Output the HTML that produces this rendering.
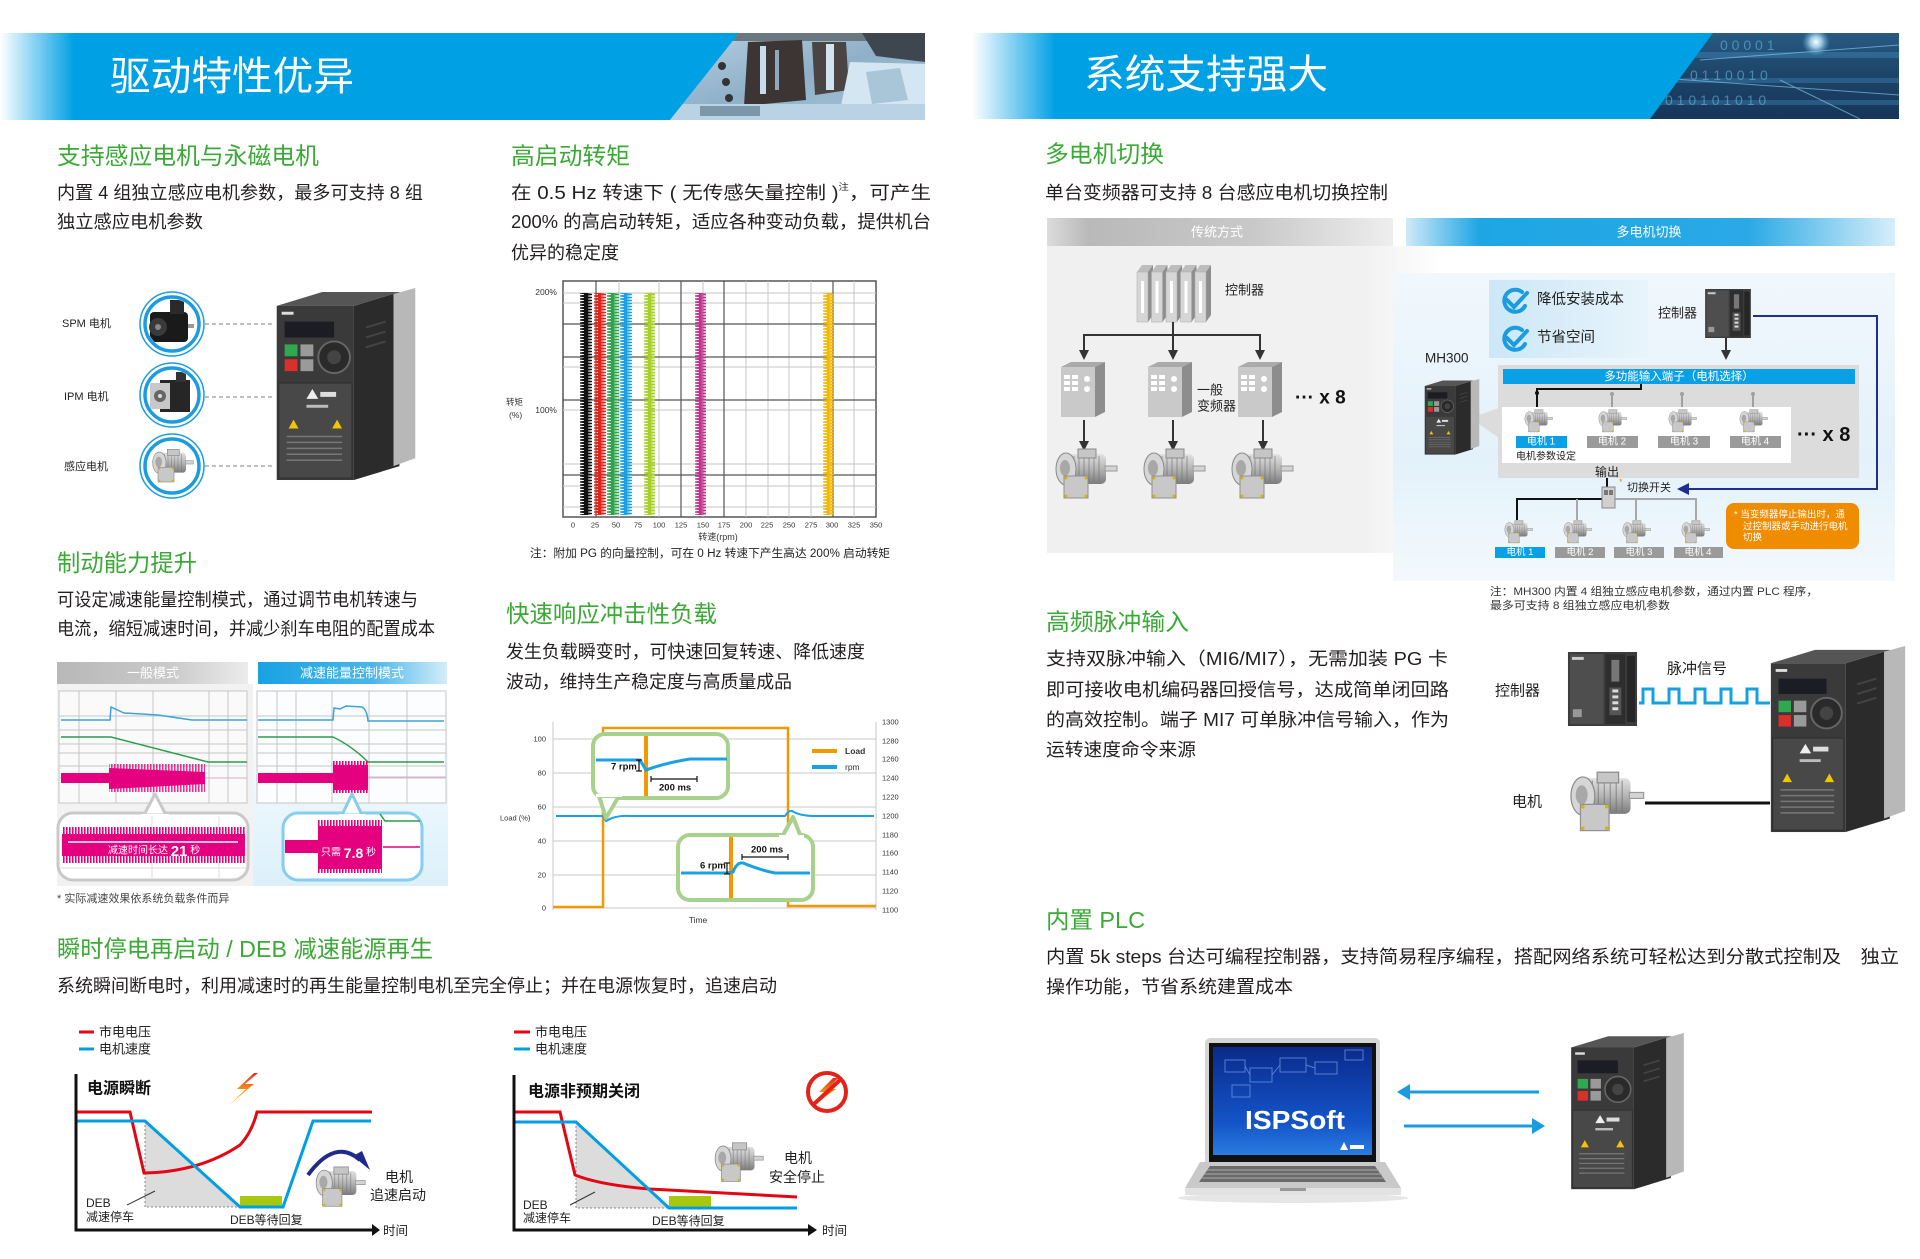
<!DOCTYPE html>
<html><head><meta charset="utf-8"><style>
html,body{margin:0;padding:0;background:#fff;}
svg{display:block;}
text{font-family:"Liberation Sans","Noto Sans CJK SC",sans-serif;}
</style></head><body>
<svg width="1920" height="1259" viewBox="0 0 1920 1259" xmlns="http://www.w3.org/2000/svg">
<defs>
<linearGradient id="bL" gradientUnits="userSpaceOnUse" x1="0" y1="0" x2="925" y2="0"><stop offset="0" stop-color="#ffffff"/><stop offset="0.08" stop-color="#00a0e4"/><stop offset="1" stop-color="#00a0e4"/></linearGradient>
<linearGradient id="bR" gradientUnits="userSpaceOnUse" x1="972" y1="0" x2="1899" y2="0"><stop offset="0" stop-color="#ffffff"/><stop offset="0.09" stop-color="#00a0e4"/><stop offset="1" stop-color="#00a0e4"/></linearGradient>
<linearGradient id="phL" x1="0" y1="0" x2="1" y2="1"><stop offset="0" stop-color="#b7d2e4"/><stop offset="0.5" stop-color="#8fb0c8"/><stop offset="1" stop-color="#a9c7dc"/></linearGradient>
<linearGradient id="phR" x1="0" y1="0" x2="0" y2="1"><stop offset="0" stop-color="#285a82"/><stop offset="0.5" stop-color="#1c4468"/><stop offset="1" stop-color="#16365a"/></linearGradient>
<radialGradient id="spot"><stop offset="0" stop-color="#ffffff"/><stop offset="0.4" stop-color="#bfe8ff" stop-opacity="0.8"/><stop offset="1" stop-color="#5fb0e0" stop-opacity="0"/></radialGradient>
<linearGradient id="tabG" x1="0" y1="0" x2="1" y2="0"><stop offset="0" stop-color="#dcdcdc"/><stop offset="0.12" stop-color="#b9b9b9"/><stop offset="0.6" stop-color="#c9c9c9"/><stop offset="1" stop-color="#eeeeee"/></linearGradient>
<linearGradient id="tabB" x1="0" y1="0" x2="1" y2="0"><stop offset="0" stop-color="#cfeaf8"/><stop offset="0.15" stop-color="#1ea6e4"/><stop offset="0.7" stop-color="#2aa9e5"/><stop offset="1" stop-color="#d6eefa"/></linearGradient>
<linearGradient id="tabB2" x1="0" y1="0" x2="1" y2="0"><stop offset="0" stop-color="#18a2e2"/><stop offset="0.6" stop-color="#49b5e8"/><stop offset="1" stop-color="#d3edf9"/></linearGradient>
<linearGradient id="tabG2" x1="0" y1="0" x2="1" y2="0"><stop offset="0" stop-color="#b8b8b8"/><stop offset="0.6" stop-color="#cacaca"/><stop offset="1" stop-color="#ececec"/></linearGradient>
<linearGradient id="panG" x1="0" y1="0" x2="1" y2="0"><stop offset="0" stop-color="#f0f0f0"/><stop offset="0.8" stop-color="#f1f1f1"/><stop offset="1" stop-color="#ffffff"/></linearGradient>
<linearGradient id="panB" x1="0" y1="0" x2="0" y2="1"><stop offset="0" stop-color="#f1f8fd"/><stop offset="0.6" stop-color="#e3f1fa"/><stop offset="1" stop-color="#f3f9fd"/></linearGradient>
<linearGradient id="chkB" x1="0" y1="0" x2="1" y2="0"><stop offset="0" stop-color="#cce7f7"/><stop offset="1" stop-color="#e8f4fb"/></linearGradient>
<linearGradient id="brB" x1="0" y1="0" x2="0" y2="1"><stop offset="0" stop-color="#ffffff"/><stop offset="1" stop-color="#dcf0fb"/></linearGradient>
<linearGradient id="mg" x1="0" y1="0" x2="0" y2="1"><stop offset="0" stop-color="#e2e2e2"/><stop offset="0.5" stop-color="#b4b4b4"/><stop offset="1" stop-color="#7c7c7c"/></linearGradient>
<linearGradient id="bolt" x1="0" y1="0" x2="0" y2="1"><stop offset="0" stop-color="#e8261c"/><stop offset="0.5" stop-color="#f7931e"/><stop offset="1" stop-color="#ffd400"/></linearGradient>
<linearGradient id="scr" x1="0" y1="0" x2="0" y2="1"><stop offset="0" stop-color="#0a2a8c"/><stop offset="0.7" stop-color="#1454c8"/><stop offset="1" stop-color="#2a7be0"/></linearGradient>
<pattern id="pk" width="12" height="3" patternUnits="userSpaceOnUse"><polyline points="0,0 12,1.5 0,3" fill="none" stroke="#111" stroke-width="1.3"/></pattern>
<pattern id="pr" width="12" height="3" patternUnits="userSpaceOnUse"><polyline points="0,0 12,1.5 0,3" fill="none" stroke="#e2231a" stroke-width="1.3"/></pattern>
<pattern id="pg" width="12" height="3" patternUnits="userSpaceOnUse"><polyline points="0,0 12,1.5 0,3" fill="none" stroke="#2ea44a" stroke-width="1.3"/></pattern>
<pattern id="pb" width="12" height="3" patternUnits="userSpaceOnUse"><polyline points="0,0 12,1.5 0,3" fill="none" stroke="#1ba1e2" stroke-width="1.3"/></pattern>
<pattern id="py" width="12" height="3" patternUnits="userSpaceOnUse"><polyline points="0,0 12,1.5 0,3" fill="none" stroke="#a8cf2a" stroke-width="1.3"/></pattern>
<pattern id="pm" width="12" height="3" patternUnits="userSpaceOnUse"><polyline points="0,0 12,1.5 0,3" fill="none" stroke="#c0348e" stroke-width="1.3"/></pattern>
<pattern id="po" width="12" height="3" patternUnits="userSpaceOnUse"><polyline points="0,0 12,1.5 0,3" fill="none" stroke="#f5b800" stroke-width="1.3"/></pattern>
<pattern id="hair" width="3" height="40" patternUnits="userSpaceOnUse"><rect x="0" y="0" width="1.6" height="40" fill="#e4007f"/></pattern>

<symbol id="motor" viewBox="0 0 66 52">
 <rect x="14" y="6" width="40" height="30" rx="5" fill="url(#mg)"/>
 <g stroke="#6f6f6f" stroke-width="1" opacity="0.6"><line x1="22" y1="8" x2="22" y2="34"/><line x1="27" y1="8" x2="27" y2="34"/><line x1="32" y1="8" x2="32" y2="34"/><line x1="37" y1="8" x2="37" y2="34"/><line x1="42" y1="8" x2="42" y2="34"/><line x1="47" y1="8" x2="47" y2="34"/></g>
 <ellipse cx="14" cy="21" rx="10" ry="16" fill="#d6d6d6" stroke="#8a8a8a"/>
 <ellipse cx="13" cy="20" rx="5" ry="8" fill="#a8a8a8"/>
 <rect x="26" y="1" width="18" height="9" fill="#c6c6c6" stroke="#8a8a8a"/>
 <rect x="53" y="18" width="12" height="5" fill="#d4d4d4" stroke="#999"/>
 <rect x="12" y="28" width="24" height="22" fill="#c8c8c8" stroke="#909090"/>
 <circle cx="14" cy="30" r="1.5" fill="#d8b400"/><circle cx="34" cy="30" r="1.5" fill="#d8b400"/><circle cx="14" cy="48" r="1.5" fill="#d8b400"/><circle cx="34" cy="48" r="1.5" fill="#d8b400"/>
</symbol>

<symbol id="drive" viewBox="0 0 140 195">
 <polygon points="78,18 124,4 124,180 78,194" fill="#2b2b2b"/>
 <polygon points="118,6 140,0 140,172 118,180" fill="#b8b8b8"/>
 <polygon points="0,18 46,4 124,4 78,18" fill="#555"/>
 <rect x="0" y="18" width="78" height="176" fill="#3a3a3a"/>
 <rect x="5" y="24" width="12" height="3" fill="#ddd"/>
 <rect x="8" y="34" width="50" height="16" fill="#1c1c24"/>
 <rect x="8" y="57" width="13" height="12" fill="#2fa84f"/>
 <rect x="24" y="57" width="13" height="12" fill="#9a9a9a"/>
 <rect x="8" y="72" width="13" height="12" fill="#d9302c"/>
 <rect x="24" y="72" width="13" height="12" fill="#9a9a9a"/>
 <circle cx="58" cy="70" r="16" fill="#2a2a2a" stroke="#666" stroke-width="2"/>
 <circle cx="58" cy="70" r="7" fill="#444"/>
 <rect x="2" y="96" width="74" height="96" fill="#484848" stroke="#2e2e2e"/>
 <polygon points="30,112 36,102 42,112" fill="#eee"/>
 <rect x="44" y="105" width="16" height="5" fill="#ddd"/>
 <rect x="30" y="118" width="22" height="3" fill="#bbb"/>
 <polygon points="12,142 17,133 22,142" fill="#f2c500"/>
 <polygon points="56,142 61,133 66,142" fill="#f2c500"/>
 <g stroke="#777" stroke-width="1.5"><line x1="10" y1="150" x2="66" y2="150"/><line x1="10" y1="156" x2="66" y2="156"/><line x1="10" y1="162" x2="66" y2="162"/><line x1="10" y1="168" x2="66" y2="168"/><line x1="10" y1="174" x2="66" y2="174"/></g>
 <g stroke="#444" stroke-width="2"><line x1="90" y1="40" x2="110" y2="34"/><line x1="90" y1="50" x2="110" y2="44"/><line x1="90" y1="60" x2="110" y2="54"/></g>
</symbol>

<symbol id="plc" viewBox="0 0 70 75">
 <rect x="0" y="0" width="70" height="75" fill="#3c3c3c"/>
 <rect x="2" y="2" width="34" height="71" fill="#4e4e4e"/>
 <rect x="4" y="5" width="12" height="3" fill="#ccc"/>
 <rect x="38" y="2" width="20" height="71" fill="#2e2e2e"/>
 <rect x="44" y="8" width="8" height="22" fill="#777"/>
 <rect x="42" y="36" width="12" height="28" fill="#555"/>
 <g fill="#ddd"><rect x="45" y="38" width="6" height="3"/><rect x="45" y="44" width="6" height="3"/><rect x="45" y="50" width="6" height="3"/><rect x="45" y="56" width="6" height="3"/></g>
 <rect x="60" y="4" width="8" height="67" fill="#262626"/>
 <rect x="5" y="58" width="9" height="8" fill="#999"/>
</symbol>
<clipPath id="cL"><polygon points="739,33 925,33 925,120 670,120"/></clipPath>
<clipPath id="cR"><polygon points="1713,33 1899,33 1899,119 1650,119"/></clipPath>
<clipPath id="c1"><circle cx="172" cy="324" r="25"/></clipPath>
<clipPath id="c2"><circle cx="172" cy="395" r="25"/></clipPath>
</defs>

<rect width="1920" height="1259" fill="#fff"/>

<!-- ===== Banners ===== -->
<rect x="0" y="33" width="925" height="87" fill="url(#bL)"/>
<g clip-path="url(#cL)">
<rect x="660" y="33" width="270" height="90" fill="url(#phL)"/>
<rect x="660" y="33" width="270" height="8" fill="#6b7882"/>
<polygon points="748,42 802,40 806,100 744,106" fill="#3d3533"/>
<rect x="760" y="46" width="6" height="48" fill="#c5dcec"/>
<rect x="775" y="50" width="4" height="40" fill="#8fa9bb"/>
<polygon points="812,42 846,42 849,90 815,95" fill="#4a4442"/>
<rect x="826" y="44" width="8" height="46" fill="#d2e4f0"/>
<polygon points="862,33 925,33 925,62 876,56" fill="#3e4650"/>
<polygon points="850,62 925,64 925,120 838,120" fill="#d3e6f2"/>
<polygon points="866,72 900,68 908,100 872,104" fill="#a9c5d8"/>
<circle cx="722" cy="66" r="4" fill="#333"/><circle cx="726" cy="82" r="4" fill="#333"/><circle cx="729" cy="98" r="4" fill="#333"/>
<rect x="660" y="104" width="270" height="16" fill="#b9d3e4"/>
<rect x="700" y="106" width="60" height="10" fill="#7d97aa"/>
</g>
<text x="110" y="77" dominant-baseline="central" font-size="40" fill="#fff" textLength="244" lengthAdjust="spacingAndGlyphs">驱动特性优异</text>

<rect x="972" y="33" width="927" height="86" fill="url(#bR)"/>
<g clip-path="url(#cR)">
<rect x="1640" y="33" width="260" height="86" fill="url(#phR)"/>
<rect x="1640" y="52" width="260" height="6" fill="#3a78a8" opacity="0.6"/>
<rect x="1640" y="78" width="260" height="5" fill="#3a78a8" opacity="0.5"/>
<rect x="1640" y="100" width="260" height="5" fill="#3a78a8" opacity="0.5"/>
<g stroke="#8fd3f5" stroke-width="1" opacity="0.6">
<line x1="1660" y1="78" x2="1899" y2="95"/><line x1="1700" y1="60" x2="1899" y2="45"/><line x1="1780" y1="80" x2="1860" y2="119"/>
</g>
<g font-size="14" fill="#6cc0ec" opacity="0.55" font-family="Liberation Mono, monospace">
<text x="1720" y="50">0  0  0  0  1</text>
<text x="1690" y="80">0  1  1  0  0  1  0</text>
<text x="1665" y="105">0  1  0  1  0  1  0  1  0</text>
</g>
<circle cx="1816" cy="42" r="14" fill="url(#spot)"/>
</g>
<text x="1084" y="75" dominant-baseline="central" font-size="40" fill="#fff" textLength="244" lengthAdjust="spacingAndGlyphs">系统支持强大</text>

<!-- ===== Titles ===== -->
<g fill="#3aa935" font-size="23.5">
<text x="57" y="156" dominant-baseline="central" textLength="262" lengthAdjust="spacingAndGlyphs">支持感应电机与永磁电机</text>
<text x="511" y="156" dominant-baseline="central" textLength="119" lengthAdjust="spacingAndGlyphs">高启动转矩</text>
<text x="57" y="563" dominant-baseline="central" textLength="140" lengthAdjust="spacingAndGlyphs">制动能力提升</text>
<text x="506" y="614" dominant-baseline="central" textLength="211" lengthAdjust="spacingAndGlyphs">快速响应冲击性负载</text>
<text x="57" y="949" dominant-baseline="central" textLength="376" lengthAdjust="spacingAndGlyphs">瞬时停电再启动 / DEB 减速能源再生</text>
<text x="1045" y="154" dominant-baseline="central" textLength="119" lengthAdjust="spacingAndGlyphs">多电机切换</text>
<text x="1046" y="622" dominant-baseline="central" textLength="143" lengthAdjust="spacingAndGlyphs">高频脉冲输入</text>
<text x="1046" y="920" dominant-baseline="central" textLength="99" lengthAdjust="spacingAndGlyphs">内置 PLC</text>
</g>

<g fill="#231f20" font-size="18">
<text x="57" y="193" dominant-baseline="central" textLength="366" lengthAdjust="spacingAndGlyphs">内置 4 组独立感应电机参数，最多可支持 8 组</text>
<text x="57" y="222" dominant-baseline="central" textLength="146" lengthAdjust="spacingAndGlyphs">独立感应电机参数</text>
<text x="511" y="193" dominant-baseline="central" textLength="420" lengthAdjust="spacingAndGlyphs">在 0.5 Hz 转速下 ( 无传感矢量控制 )<tspan font-size="9" dy="-6">注</tspan><tspan dy="6">，可产生</tspan></text>
<text x="511" y="222" dominant-baseline="central" textLength="420" lengthAdjust="spacingAndGlyphs">200% 的高启动转矩，适应各种变动负载，提供机台</text>
<text x="511" y="253" dominant-baseline="central" textLength="108" lengthAdjust="spacingAndGlyphs">优异的稳定度</text>
<text x="57" y="600" dominant-baseline="central" textLength="361" lengthAdjust="spacingAndGlyphs">可设定减速能量控制模式，通过调节电机转速与</text>
<text x="57" y="629" dominant-baseline="central" textLength="378" lengthAdjust="spacingAndGlyphs">电流，缩短减速时间，并减少刹车电阻的配置成本</text>
<text x="506" y="652" dominant-baseline="central" textLength="359" lengthAdjust="spacingAndGlyphs">发生负载瞬变时，可快速回复转速、降低速度</text>
<text x="506" y="682" dominant-baseline="central" textLength="286" lengthAdjust="spacingAndGlyphs">波动，维持生产稳定度与高质量成品</text>
<text x="57" y="986" dominant-baseline="central" textLength="720" lengthAdjust="spacingAndGlyphs">系统瞬间断电时，利用减速时的再生能量控制电机至完全停止；并在电源恢复时，追速启动</text>
<text x="1045" y="193" dominant-baseline="central" textLength="343" lengthAdjust="spacingAndGlyphs">单台变频器可支持 8 台感应电机切换控制</text>
<text x="1046" y="659" dominant-baseline="central" textLength="402" lengthAdjust="spacingAndGlyphs">支持双脉冲输入（MI6/MI7），无需加装 PG 卡</text>
<text x="1046" y="690" dominant-baseline="central" textLength="403" lengthAdjust="spacingAndGlyphs">即可接收电机编码器回授信号，达成简单闭回路</text>
<text x="1046" y="720" dominant-baseline="central" textLength="403" lengthAdjust="spacingAndGlyphs">的高效控制。端子 MI7 可单脉冲信号输入，作为</text>
<text x="1046" y="750" dominant-baseline="central" textLength="150" lengthAdjust="spacingAndGlyphs">运转速度命令来源</text>
<text x="1046" y="957" dominant-baseline="central" textLength="853" lengthAdjust="spacingAndGlyphs">内置 5k steps 台达可编程控制器，支持简易程序编程，搭配网络系统可轻松达到分散式控制及　独立</text>
<text x="1046" y="987" dominant-baseline="central" textLength="247" lengthAdjust="spacingAndGlyphs">操作功能，节省系统建置成本</text>
</g>

<!-- motor circles -->
<g font-size="11" fill="#222">
<text x="62" y="324" dominant-baseline="central">SPM 电机</text>
<text x="64" y="397" dominant-baseline="central">IPM 电机</text>
<text x="64" y="467" dominant-baseline="central">感应电机</text>
</g>
<g stroke="#999" stroke-width="1.2" stroke-dasharray="4 3">
<line x1="205" y1="324" x2="272" y2="324"/><line x1="205" y1="397" x2="272" y2="397"/><line x1="205" y1="466" x2="272" y2="466"/>
</g>
<circle cx="172" cy="324" r="32" fill="#fff" stroke="#1b9be0" stroke-width="1.5"/>
<circle cx="172" cy="324" r="27" fill="#fff" stroke="#1b9be0" stroke-width="3.5"/>
<g clip-path="url(#c1)">
<rect x="150" y="312" width="38" height="30" rx="4" fill="#1a1a1a"/>
<rect x="170" y="300" width="14" height="14" fill="#2a2a2a"/>
<circle cx="158" cy="327" r="9" fill="#3a3a3a"/><circle cx="158" cy="327" r="3" fill="#888"/>
<rect x="188" y="324" width="6" height="4" fill="#999"/>
</g>
<circle cx="172" cy="395" r="32" fill="#fff" stroke="#1b9be0" stroke-width="1.5"/>
<circle cx="172" cy="395" r="27" fill="#fff" stroke="#1b9be0" stroke-width="3.5"/>
<g clip-path="url(#c2)">
<rect x="160" y="380" width="30" height="32" fill="#262626"/>
<rect x="176" y="372" width="10" height="10" fill="#333"/>
<rect x="150" y="383" width="20" height="26" fill="#c8c8c8"/>
<circle cx="160" cy="396" r="6" fill="#666"/><circle cx="160" cy="396" r="2" fill="#ddd"/>
</g>
<circle cx="172" cy="466" r="32" fill="#fff" stroke="#1b9be0" stroke-width="1.5"/>
<circle cx="172" cy="466" r="27" fill="#fff" stroke="#1b9be0" stroke-width="3.5"/>
<use href="#motor" x="150" y="448" width="44" height="36"/>
<use href="#drive" x="276" y="288" width="140" height="193"/>

<!-- torque chart -->
<rect x="563" y="281" width="313" height="236" fill="#fff" stroke="#555" stroke-width="1.5"/>
<g stroke="#c4c4c4" stroke-width="1">
<line x1="563" y1="293" x2="876" y2="293"/><line x1="563" y1="303" x2="876" y2="303"/><line x1="563" y1="367" x2="876" y2="367"/><line x1="563" y1="410" x2="876" y2="410"/><line x1="563" y1="464" x2="876" y2="464"/><line x1="563" y1="486" x2="876" y2="486"/><line x1="563" y1="507" x2="876" y2="507"/>
<line x1="619" y1="281" x2="619" y2="517"/><line x1="659" y1="281" x2="659" y2="517"/><line x1="703" y1="281" x2="703" y2="517"/><line x1="746" y1="281" x2="746" y2="517"/><line x1="768" y1="281" x2="768" y2="517"/><line x1="789" y1="281" x2="789" y2="517"/><line x1="811" y1="281" x2="811" y2="517"/><line x1="854" y1="281" x2="854" y2="517"/>
</g>
<g stroke="#555" stroke-width="1.2">
<line x1="563" y1="324" x2="876" y2="324"/><line x1="563" y1="357" x2="876" y2="357"/><line x1="563" y1="400" x2="876" y2="400"/><line x1="563" y1="475" x2="876" y2="475"/>
<line x1="596" y1="281" x2="596" y2="517"/><line x1="681" y1="281" x2="681" y2="517"/><line x1="724" y1="281" x2="724" y2="517"/><line x1="833" y1="281" x2="833" y2="517"/>
</g>
<g transform="translate(580,293)"><rect width="12" height="222" fill="url(#pk)"/><rect x="4" width="4" height="222" fill="#111"/></g>
<g transform="translate(594,293)"><rect width="12" height="222" fill="url(#pr)"/><rect x="4" width="3" height="222" fill="#e2231a"/></g>
<g transform="translate(607,293)"><rect width="12" height="222" fill="url(#pg)"/><rect x="4" width="3" height="222" fill="#2ea44a"/></g>
<g transform="translate(620,293)"><rect width="12" height="222" fill="url(#pb)"/><rect x="4" width="3" height="222" fill="#1ba1e2"/></g>
<g transform="translate(644,293)"><rect width="11" height="222" fill="url(#py)"/><rect x="4" width="3" height="222" fill="#a8cf2a"/></g>
<g transform="translate(695,293)"><rect width="11" height="222" fill="url(#pm)"/><rect x="4" width="2.5" height="222" fill="#c0348e"/></g>
<g transform="translate(823,293)"><rect width="11" height="222" fill="url(#po)"/><rect x="4" width="2.5" height="222" fill="#f5b800"/></g>
<g font-size="8.5" fill="#333">
<text x="557" y="292" text-anchor="end" dominant-baseline="central">200%</text>
<text x="557" y="410" text-anchor="end" dominant-baseline="central">100%</text>
<text x="506" y="402" dominant-baseline="central">转矩</text>
<text x="509" y="415" dominant-baseline="central">(%)</text>
</g>
<g font-size="7.5" fill="#333" text-anchor="middle">
<text x="573" y="525" dominant-baseline="central">0</text><text x="595" y="525" dominant-baseline="central">25</text><text x="616" y="525" dominant-baseline="central">50</text><text x="638" y="525" dominant-baseline="central">75</text><text x="659" y="525" dominant-baseline="central">100</text><text x="681" y="525" dominant-baseline="central">125</text><text x="703" y="525" dominant-baseline="central">150</text><text x="724" y="525" dominant-baseline="central">175</text><text x="746" y="525" dominant-baseline="central">200</text><text x="767" y="525" dominant-baseline="central">225</text><text x="789" y="525" dominant-baseline="central">250</text><text x="811" y="525" dominant-baseline="central">275</text><text x="832" y="525" dominant-baseline="central">300</text><text x="854" y="525" dominant-baseline="central">325</text><text x="876" y="525" dominant-baseline="central">350</text>
<text x="718" y="537" font-size="9" dominant-baseline="central">转速(rpm)</text>
</g>
<text x="530" y="554" dominant-baseline="central" font-size="11.5" fill="#222" textLength="360" lengthAdjust="spacingAndGlyphs">注：附加 PG 的向量控制，可在 0 Hz 转速下产生高达 200% 启动转矩</text>

<!-- ===== braking charts ===== -->
<rect x="57" y="662" width="191" height="22" fill="url(#tabG2)"/>
<rect x="258" y="662" width="189" height="22" fill="url(#tabB2)"/>
<text x="153" y="673" text-anchor="middle" dominant-baseline="central" font-size="13" fill="#fff">一般模式</text>
<text x="352" y="673" text-anchor="middle" dominant-baseline="central" font-size="13" fill="#fff">减速能量控制模式</text>
<rect x="57" y="684" width="196" height="202" fill="#f2f2f2"/>
<rect x="253" y="684" width="195" height="202" fill="url(#brB)"/>
<g stroke="#c6c6c6" stroke-width="1" fill="none">
<rect x="59" y="691" width="188" height="112" fill="#fafafa"/>
<line x1="79" y1="691" x2="79" y2="803"/><line x1="116" y1="691" x2="116" y2="803"/><line x1="153" y1="691" x2="153" y2="803"/><line x1="209" y1="691" x2="209" y2="803"/><line x1="228" y1="691" x2="228" y2="803"/>
<line x1="59" y1="716" x2="247" y2="716"/><line x1="59" y1="730" x2="247" y2="730"/><line x1="59" y1="744" x2="247" y2="744"/><line x1="59" y1="753" x2="247" y2="753"/><line x1="59" y1="766" x2="247" y2="766"/><line x1="59" y1="778" x2="247" y2="778"/>
<rect x="257" y="691" width="189" height="112" fill="#fbfdff"/>
<line x1="277" y1="691" x2="277" y2="803"/><line x1="296" y1="691" x2="296" y2="803"/><line x1="332" y1="691" x2="332" y2="803"/><line x1="369" y1="691" x2="369" y2="803"/><line x1="407" y1="691" x2="407" y2="803"/>
<line x1="257" y1="716" x2="446" y2="716"/><line x1="257" y1="730" x2="446" y2="730"/><line x1="257" y1="744" x2="446" y2="744"/><line x1="257" y1="753" x2="446" y2="753"/><line x1="257" y1="766" x2="446" y2="766"/><line x1="257" y1="778" x2="446" y2="778"/>
</g>
<g fill="none" stroke-width="1.5">
<path d="M61,720 H110 L111,707 L124,713 L158,715 L192,720 H247" stroke="#3aa3dc"/>
<path d="M61,737 H111 L208,762 H247" stroke="#2a9d4a"/>
<path d="M258,720 H333 L334,708 L340,709 L346,706 L362,707 Q367,710 368,721 H444" stroke="#3aa3dc"/>
<path d="M258,737 H333 Q352,746 368,762 H444" stroke="#2a9d4a"/>
<line x1="368" y1="777" x2="446" y2="777" stroke="#e9a6cc" stroke-width="1"/>
<line x1="205" y1="778" x2="247" y2="778" stroke="#e9a6cc" stroke-width="1"/>
</g>
<rect x="61" y="773" width="50" height="10" fill="#e4007f"/>
<polygon points="109,768 205,772 205,784 109,789" fill="#e4007f"/>
<rect x="109" y="764" width="96" height="28" fill="url(#hair)" opacity="0.8"/>
<rect x="258" y="773" width="76" height="10" fill="#e4007f"/>
<rect x="333" y="765" width="35" height="25" fill="#e4007f"/>
<rect x="333" y="761" width="35" height="32" fill="url(#hair)"/>

<!-- callouts braking -->
<rect x="58" y="813" width="190" height="67" rx="15" fill="#fff" stroke="#c9c9c9" stroke-width="3"/>
<polygon points="144,815 155,794 166,815" fill="#fff" stroke="#c9c9c9" stroke-width="3" stroke-linejoin="round"/>
<rect x="141" y="814" width="28" height="4" fill="#fff"/>
<g stroke="#ddd" stroke-width="1"><line x1="152" y1="816" x2="152" y2="878"/><line x1="219" y1="816" x2="219" y2="878"/><line x1="60" y1="868" x2="246" y2="868"/></g>
<rect x="62" y="834" width="183" height="22" fill="#e4007f"/>
<rect x="62" y="827" width="183" height="36" fill="url(#hair)"/>
<line x1="68" y1="842" x2="238" y2="842" stroke="#fff" stroke-width="1.5"/>
<text x="108" y="851" dominant-baseline="central" font-size="10" fill="#fff">减速时间长达 <tspan font-size="15" font-weight="bold">21</tspan> 秒</text>

<rect x="283" y="813" width="139" height="67" rx="15" fill="#fff" stroke="#86cdf0" stroke-width="3"/>
<polygon points="342,815 352,794 362,815" fill="#fff" stroke="#86cdf0" stroke-width="3" stroke-linejoin="round"/>
<rect x="339" y="814" width="26" height="4" fill="#fff"/>
<path d="M380,814 L385,821 H420" fill="none" stroke="#2a9d4a" stroke-width="1.5"/>
<line x1="383" y1="847" x2="420" y2="847" stroke="#e4007f" stroke-width="1.5"/>
<rect x="285" y="840" width="34" height="13" fill="#e4007f"/>
<rect x="318" y="826" width="64" height="43" fill="#e4007f"/>
<rect x="318" y="820" width="64" height="53" fill="url(#hair)"/>
<text x="321" y="853" dominant-baseline="central" font-size="10" fill="#fff">只需 <tspan font-size="14" font-weight="bold">7.8</tspan> 秒</text>
<text x="57" y="899" dominant-baseline="central" font-size="11" fill="#444">* 实际减速效果依系统负载条件而异</text>

<!-- ===== fast response chart ===== -->
<g stroke="#c8c8c8" stroke-width="1">
<line x1="553" y1="739" x2="876" y2="739"/><line x1="553" y1="773" x2="876" y2="773"/><line x1="553" y1="807" x2="876" y2="807"/><line x1="553" y1="841" x2="876" y2="841"/><line x1="553" y1="875" x2="876" y2="875"/><line x1="553" y1="908" x2="876" y2="908"/>
<line x1="553" y1="722" x2="553" y2="910"/><line x1="876" y1="722" x2="876" y2="910"/>
</g>
<g font-size="7.5" fill="#333">
<text x="546" y="739" text-anchor="end" dominant-baseline="central">100</text>
<text x="546" y="773" text-anchor="end" dominant-baseline="central">80</text>
<text x="546" y="807" text-anchor="end" dominant-baseline="central">60</text>
<text x="546" y="841" text-anchor="end" dominant-baseline="central">40</text>
<text x="546" y="875" text-anchor="end" dominant-baseline="central">20</text>
<text x="546" y="908" text-anchor="end" dominant-baseline="central">0</text>
<text x="500" y="818" dominant-baseline="central">Load (%)</text>
<text x="698" y="920" text-anchor="middle" dominant-baseline="central" font-size="8.5">Time</text>
<text x="882" y="722" dominant-baseline="central">1300</text><text x="882" y="741" dominant-baseline="central">1280</text><text x="882" y="759" dominant-baseline="central">1260</text><text x="882" y="778" dominant-baseline="central">1240</text><text x="882" y="797" dominant-baseline="central">1220</text><text x="882" y="816" dominant-baseline="central">1200</text><text x="882" y="835" dominant-baseline="central">1180</text><text x="882" y="853" dominant-baseline="central">1160</text><text x="882" y="872" dominant-baseline="central">1140</text><text x="882" y="891" dominant-baseline="central">1120</text><text x="882" y="910" dominant-baseline="central">1100</text>
</g>
<path d="M553,907 H603 V728 H788 V906 H876" fill="none" stroke="#f39800" stroke-width="2.5"/>
<path d="M556,816 H603 L606,821 Q615,815 630,816 H785 Q789,810 792,811 Q800,816 815,816 H874" fill="none" stroke="#1ba1e2" stroke-width="2"/>
<line x1="812" y1="751" x2="837" y2="751" stroke="#f39800" stroke-width="4"/>
<line x1="812" y1="767" x2="837" y2="767" stroke="#1ba1e2" stroke-width="4"/>
<text x="845" y="751" dominant-baseline="central" font-size="8.5" font-weight="bold" fill="#333">Load</text>
<text x="845" y="767" dominant-baseline="central" font-size="8.5" fill="#333">rpm</text>

<rect x="593" y="734" width="135" height="64" rx="12" fill="#fff" stroke="#a9d18e" stroke-width="4"/>
<polygon points="599,796 606,818 619,796" fill="#fff" stroke="#a9d18e" stroke-width="4" stroke-linejoin="round"/>
<rect x="596" y="794" width="26" height="3" fill="#fff"/>
<rect x="644" y="736" width="4" height="60" fill="#f39800"/>
<path d="M596,760 H640 L646,770 Q665,763 690,759 H727" fill="none" stroke="#1ba1e2" stroke-width="3"/>
<g stroke="#111" stroke-width="1.2"><line x1="639" y1="760" x2="639" y2="771"/><line x1="636" y1="760" x2="642" y2="760"/><line x1="636" y1="771" x2="642" y2="771"/><line x1="651" y1="779" x2="697" y2="779"/><line x1="651" y1="776" x2="651" y2="782"/><line x1="697" y1="776" x2="697" y2="782"/></g>
<text x="611" y="767" dominant-baseline="central" font-size="9.5" font-weight="bold" fill="#111">7 rpm</text>
<text x="659" y="788" dominant-baseline="central" font-size="9.5" font-weight="bold" fill="#111">200 ms</text>

<rect x="678" y="835" width="135" height="65" rx="12" fill="#fff" stroke="#a9d18e" stroke-width="4"/>
<polygon points="782,837 793,817 801,837" fill="#fff" stroke="#a9d18e" stroke-width="4" stroke-linejoin="round"/>
<rect x="779" y="835" width="25" height="4" fill="#fff"/>
<rect x="729" y="837" width="4" height="61" fill="#f39800"/>
<path d="M681,873 H727 L733,872 Q737,862 743,863 Q760,870 775,873 H810" fill="none" stroke="#1ba1e2" stroke-width="3"/>
<g stroke="#111" stroke-width="1.2"><line x1="727" y1="863" x2="727" y2="874"/><line x1="724" y1="863" x2="730" y2="863"/><line x1="724" y1="874" x2="730" y2="874"/><line x1="742" y1="857" x2="788" y2="857"/><line x1="742" y1="854" x2="742" y2="860"/><line x1="788" y1="854" x2="788" y2="860"/></g>
<text x="700" y="866" dominant-baseline="central" font-size="9.5" font-weight="bold" fill="#111">6 rpm</text>
<text x="751" y="850" dominant-baseline="central" font-size="9.5" font-weight="bold" fill="#111">200 ms</text>

<!-- ===== DEB charts ===== -->
<g font-size="13" fill="#222">
<line x1="79" y1="1032" x2="94" y2="1032" stroke="#e30613" stroke-width="3"/><text x="99" y="1032" dominant-baseline="central">市电电压</text>
<line x1="79" y1="1049" x2="94" y2="1049" stroke="#009fe3" stroke-width="3"/><text x="99" y="1049" dominant-baseline="central">电机速度</text>
<line x1="514" y1="1032" x2="530" y2="1032" stroke="#e30613" stroke-width="3"/><text x="535" y="1032" dominant-baseline="central">市电电压</text>
<line x1="514" y1="1049" x2="530" y2="1049" stroke="#009fe3" stroke-width="3"/><text x="535" y="1049" dominant-baseline="central">电机速度</text>
</g>
<!-- chart 1 -->
<path d="M145,1121 L240,1207 H145 Z" fill="#dcdcdc"/>
<path d="M145,1121 V1207 H240" fill="none" stroke="#888" stroke-width="1" stroke-dasharray="2 2"/>
<rect x="240" y="1196" width="42" height="10" fill="#a7c80f"/>
<path d="M76,1112 H130 L144,1173 Q200,1172 240,1145 Q252,1132 257,1112 H372" fill="none" stroke="#e30613" stroke-width="3"/>
<path d="M76,1121 H145 L240,1207 H283 L313,1121 H371" fill="none" stroke="#009fe3" stroke-width="3"/>
<path d="M76,1074 V1230 H372" fill="none" stroke="#111" stroke-width="3"/>
<polygon points="372,1224 380,1230 372,1236" fill="#111"/>
<text x="383" y="1231" dominant-baseline="central" font-size="12.5" fill="#222">时间</text>
<text x="87" y="1089" dominant-baseline="central" font-size="16" font-weight="bold" fill="#111">电源瞬断</text>
<polygon points="254,1073 237,1089 246,1089 228,1106 254,1084 245,1084 258,1073" fill="url(#bolt)"/>
<line x1="127" y1="1205" x2="155" y2="1191" stroke="#333" stroke-width="1"/>
<text x="86" y="1203" dominant-baseline="central" font-size="12" fill="#222">DEB</text>
<text x="86" y="1217" dominant-baseline="central" font-size="12" fill="#222">减速停车</text>
<text x="230" y="1220" dominant-baseline="central" font-size="12" fill="#222">DEB等待回复</text>
<use href="#motor" x="313" y="1166" width="53" height="42"/>
<path d="M308,1175 Q335,1138 360,1160" fill="none" stroke="#1f2b8c" stroke-width="4"/>
<polygon points="353,1156 370,1170 362,1151" fill="#1f2b8c"/>
<text x="385" y="1177" dominant-baseline="central" font-size="14" fill="#222">电机</text>
<text x="370" y="1195" dominant-baseline="central" font-size="14" fill="#222">追速启动</text>
<!-- chart 2 -->
<path d="M576,1122 L669,1208 H576 Z" fill="#dcdcdc"/>
<path d="M576,1122 V1208 H669" fill="none" stroke="#888" stroke-width="1" stroke-dasharray="2 2"/>
<rect x="669" y="1196" width="42" height="11" fill="#a7c80f"/>
<path d="M514,1112 H560 L575,1175 Q600,1185 650,1189 L797,1197" fill="none" stroke="#e30613" stroke-width="3"/>
<path d="M514,1122 H576 L669,1208 H797" fill="none" stroke="#009fe3" stroke-width="3"/>
<path d="M514,1075 V1230 H810" fill="none" stroke="#111" stroke-width="3"/>
<polygon points="808,1224 817,1230 808,1236" fill="#111"/>
<text x="822" y="1231" dominant-baseline="central" font-size="12.5" fill="#222">时间</text>
<text x="528" y="1092" dominant-baseline="central" font-size="16" font-weight="bold" fill="#111">电源非预期关闭</text>
<circle cx="827" cy="1092" r="19" fill="#fff" stroke="#e2231a" stroke-width="4"/>
<polygon points="833,1078 819,1092 827,1092 813,1106 836,1089 828,1089 838,1078" fill="url(#bolt)"/>
<line x1="841" y1="1079" x2="813" y2="1105" stroke="#e2231a" stroke-width="4"/>
<line x1="570" y1="1205" x2="595" y2="1192" stroke="#333" stroke-width="1"/>
<text x="523" y="1205" dominant-baseline="central" font-size="12" fill="#222">DEB</text>
<text x="523" y="1218" dominant-baseline="central" font-size="12" fill="#222">减速停车</text>
<text x="652" y="1221" dominant-baseline="central" font-size="12" fill="#222">DEB等待回复</text>
<use href="#motor" x="712" y="1142" width="52" height="41"/>
<text x="784" y="1158" dominant-baseline="central" font-size="14" fill="#222">电机</text>
<text x="769" y="1177" dominant-baseline="central" font-size="14" fill="#222">安全停止</text>

<!-- ===== Multi-motor diagram ===== -->
<rect x="1047" y="246" width="396" height="307" fill="url(#panG)"/>
<rect x="1393" y="273" width="502" height="308" fill="url(#panB)"/>
<rect x="1047" y="218" width="346" height="28" fill="url(#tabG)"/>
<rect x="1406" y="218" width="489" height="28" fill="url(#tabB)"/>
<text x="1217" y="232" text-anchor="middle" dominant-baseline="central" font-size="13" fill="#fff">传统方式</text>
<text x="1649" y="232" text-anchor="middle" dominant-baseline="central" font-size="13" fill="#fff">多电机切换</text>

<!-- traditional -->
<g>
<g id="slab"><polygon points="1137,272 1142,265 1153,265 1148,272" fill="#bdbdbd"/><polygon points="1148,272 1153,265 1153,315 1148,322" fill="#8e8e8e"/><rect x="1137" y="272" width="11" height="50" fill="#d6d6d6" stroke="#aaa" stroke-width="0.5"/><rect x="1141" y="281" width="3" height="32" fill="#fff"/></g>
<use href="#slab" x="14.5"/><use href="#slab" x="29"/><use href="#slab" x="43.5"/><use href="#slab" x="58"/>
</g>
<text x="1225" y="290" dominant-baseline="central" font-size="13" fill="#222">控制器</text>
<g stroke="#333" stroke-width="2" fill="none">
<line x1="1173" y1="322" x2="1173" y2="352"/><polyline points="1084,352 1084,335 1260,335 1260,352"/>
<line x1="1084" y1="420" x2="1084" y2="443"/><line x1="1173" y1="420" x2="1173" y2="443"/><line x1="1263" y1="420" x2="1263" y2="443"/>
</g>
<g fill="#333">
<polygon points="1079,350 1089,350 1084,360"/><polygon points="1168,350 1178,350 1173,360"/><polygon points="1255,350 1265,350 1260,360"/>
<polygon points="1079,441 1089,441 1084,451"/><polygon points="1168,441 1178,441 1173,451"/><polygon points="1258,441 1268,441 1263,451"/>
</g>
<g id="vfd">
<polygon points="1061,367 1071,362 1105,362 1095,367" fill="#aaa"/>
<polygon points="1095,367 1105,362 1105,412 1095,417" fill="#8d8d8d"/>
<rect x="1061" y="367" width="34" height="50" fill="#c9c9c9"/>
<g fill="#fff"><rect x="1064" y="375" width="6" height="4"/><rect x="1072" y="375" width="6" height="4"/><rect x="1064" y="381" width="6" height="4"/><rect x="1072" y="381" width="6" height="4"/><rect x="1064" y="387" width="6" height="4"/><rect x="1072" y="387" width="6" height="4"/><circle cx="1087" cy="379" r="3"/><circle cx="1087" cy="389" r="3"/></g>
</g>
<use href="#vfd" x="87"/><use href="#vfd" x="177"/>
<text x="1197" y="390" dominant-baseline="central" font-size="13" fill="#222">一般</text>
<text x="1197" y="406" dominant-baseline="central" font-size="13" fill="#222">变频器</text>
<text x="1295" y="398" dominant-baseline="central" font-size="19" font-weight="bold" fill="#111">··· x 8</text>
<use href="#motor" x="1052" y="448" width="66" height="52"/>
<use href="#motor" x="1140" y="448" width="66" height="52"/>
<use href="#motor" x="1228" y="448" width="66" height="52"/>

<!-- new way -->
<rect x="1489" y="280" width="159" height="78" fill="url(#chkB)"/>
<g fill="none" stroke="#1b9be0" stroke-width="4" stroke-linecap="round">
<path d="M1522,292 A11,11 0 1 0 1525,306"/><path d="M1507,300 L1514,307 L1527,293"/>
<path d="M1522,330 A11,11 0 1 0 1525,344"/><path d="M1507,338 L1514,345 L1527,331"/>
</g>
<text x="1537" y="300" dominant-baseline="central" font-size="14.5" fill="#222">降低安装成本</text>
<text x="1537" y="338" dominant-baseline="central" font-size="14.5" fill="#222">节省空间</text>
<text x="1658" y="313" dominant-baseline="central" font-size="13" fill="#222">控制器</text>
<use href="#plc" x="1703" y="289" width="50" height="49"/>
<line x1="1726" y1="338" x2="1726" y2="352" stroke="#333" stroke-width="2"/>
<polygon points="1721,350 1731,350 1726,360" fill="#333"/>
<path d="M1753,316 H1877 V489 H1686" fill="none" stroke="#1f2f8f" stroke-width="2"/>
<polygon points="1677,489 1689,483 1689,495" fill="#1f2f8f"/>
<text x="1425" y="358" dominant-baseline="central" font-size="13.5" fill="#222">MH300</text>
<polygon points="1470,418 1502,407 1502,440" fill="#dcdcdc"/>
<use href="#drive" x="1424" y="379" width="56" height="76"/>
<rect x="1498" y="365" width="361" height="113" fill="#dcdcdc"/>
<rect x="1503" y="369" width="352" height="15" fill="#0aa0e6"/>
<text x="1679" y="377" text-anchor="middle" dominant-baseline="central" font-size="11.5" fill="#fff">多功能输入端子（电机选择）</text>
<rect x="1502" y="407" width="289" height="56" fill="#fff"/>
<path d="M1641,384 V389 H1537 V407" fill="none" stroke="#111" stroke-width="2"/>
<circle cx="1537" cy="393" r="2" fill="#111"/>
<g stroke="#a0a0a0" stroke-width="2"><line x1="1612" y1="394" x2="1612" y2="407"/><line x1="1682" y1="394" x2="1682" y2="407"/><line x1="1753" y1="394" x2="1753" y2="407"/></g>
<g fill="#a0a0a0"><circle cx="1612" cy="394" r="2"/><circle cx="1682" cy="394" r="2"/><circle cx="1753" cy="394" r="2"/></g>
<use href="#motor" x="1523" y="408" width="30" height="26"/>
<use href="#motor" x="1597" y="408" width="30" height="26"/>
<use href="#motor" x="1667" y="408" width="30" height="26"/>
<use href="#motor" x="1738" y="408" width="30" height="26"/>
<rect x="1516" y="436" width="51" height="12" fill="#0aa0e6"/>
<rect x="1587" y="436" width="51" height="12" fill="#9a9a9a"/>
<rect x="1658" y="436" width="52" height="12" fill="#9a9a9a"/>
<rect x="1730" y="436" width="51" height="12" fill="#9a9a9a"/>
<g font-size="10" fill="#fff" text-anchor="middle">
<text x="1541" y="442" dominant-baseline="central">电机 1</text><text x="1612" y="442" dominant-baseline="central">电机 2</text><text x="1684" y="442" dominant-baseline="central">电机 3</text><text x="1755" y="442" dominant-baseline="central">电机 4</text>
</g>
<text x="1516" y="457" dominant-baseline="central" font-size="10" fill="#222">电机参数设定</text>
<text x="1797" y="435" dominant-baseline="central" font-size="20" font-weight="bold" fill="#111">··· x 8</text>
<text x="1595" y="472" dominant-baseline="central" font-size="12" fill="#222">输出</text>
<line x1="1607" y1="478" x2="1607" y2="487" stroke="#111" stroke-width="2"/>
<path d="M1517,520 V499 H1603" fill="none" stroke="#111" stroke-width="2"/>
<path d="M1614,499 H1696 V520 M1577,499 V520 M1636,499 V520" fill="none" stroke="#a8a8a8" stroke-width="2"/>
<rect x="1602" y="487" width="13" height="21" fill="#d0d0d0" stroke="#888" stroke-width="1"/>
<rect x="1604" y="490" width="4" height="5" fill="#777"/><rect x="1609" y="490" width="4" height="5" fill="#777"/>
<text x="1619" y="485" font-size="9" fill="#f08c00">*</text>
<text x="1627" y="488" dominant-baseline="central" font-size="11" fill="#222">切换开关</text>
<use href="#motor" x="1503" y="519" width="30" height="26"/>
<use href="#motor" x="1562" y="519" width="30" height="26"/>
<use href="#motor" x="1621" y="519" width="30" height="26"/>
<use href="#motor" x="1680" y="519" width="30" height="26"/>
<rect x="1495" y="547" width="50" height="11" fill="#0aa0e6"/>
<rect x="1555" y="547" width="50" height="11" fill="#9a9a9a"/>
<rect x="1614" y="547" width="50" height="11" fill="#9a9a9a"/>
<rect x="1674" y="547" width="49" height="11" fill="#9a9a9a"/>
<g font-size="9.5" fill="#fff" text-anchor="middle">
<text x="1520" y="552.5" dominant-baseline="central">电机 1</text><text x="1580" y="552.5" dominant-baseline="central">电机 2</text><text x="1639" y="552.5" dominant-baseline="central">电机 3</text><text x="1698" y="552.5" dominant-baseline="central">电机 4</text>
</g>
<rect x="1726" y="503" width="133" height="46" rx="8" fill="#f08c00"/>
<g font-size="9.5" fill="#fff">
<text x="1734" y="515" dominant-baseline="central">* 当变频器停止输出时，通</text>
<text x="1743" y="527" dominant-baseline="central">过控制器或手动进行电机</text>
<text x="1743" y="538" dominant-baseline="central">切换</text>
</g>
<text x="1490" y="592" dominant-baseline="central" font-size="11" fill="#333" textLength="328" lengthAdjust="spacingAndGlyphs">注：MH300 内置 4 组独立感应电机参数，通过内置 PLC 程序，</text>
<text x="1490" y="606" dominant-baseline="central" font-size="11" fill="#333" textLength="180" lengthAdjust="spacingAndGlyphs">最多可支持 8 组独立感应电机参数</text>

<!-- ===== pulse input ===== -->
<text x="1495" y="691" dominant-baseline="central" font-size="15" fill="#222">控制器</text>
<use href="#plc" x="1567" y="652" width="71" height="74"/>
<text x="1667" y="669" dominant-baseline="central" font-size="15" fill="#222">脉冲信号</text>
<path d="M1639,703 H1643 V689 H1653 V703 H1669 V689 H1679 V703 H1695 V689 H1705 V703 H1721 V689 H1731 V703 H1747 V689 H1757 V703 H1770" fill="none" stroke="#16a0e0" stroke-width="3"/>
<use href="#drive" x="1770" y="646" width="136" height="187"/>
<text x="1512" y="802" dominant-baseline="central" font-size="15" fill="#222">电机</text>
<use href="#motor" x="1566" y="771" width="79" height="62"/>
<line x1="1645" y1="803" x2="1770" y2="803" stroke="#111" stroke-width="3"/>

<!-- ===== PLC ===== -->
<ellipse cx="1293" cy="1198" rx="115" ry="5" fill="#e6e6e6"/>
<path d="M1205,1162 V1044 Q1205,1038 1211,1038 H1374 Q1380,1038 1380,1044 V1162 Z" fill="#d5d5d5"/>
<rect x="1209" y="1043" width="167" height="119" fill="#111"/>
<rect x="1213" y="1047" width="159" height="108" fill="url(#scr)"/>
<g stroke="#6ea0e8" stroke-width="1" fill="none" opacity="0.7">
<rect x="1225" y="1060" width="20" height="12"/><rect x="1250" y="1068" width="22" height="14"/><rect x="1232" y="1085" width="18" height="12"/><rect x="1280" y="1058" width="26" height="14"/><rect x="1315" y="1062" width="22" height="12"/><rect x="1345" y="1050" width="18" height="10"/>
<line x1="1245" y1="1066" x2="1250" y2="1075"/><line x1="1272" y1="1075" x2="1280" y2="1065"/><line x1="1306" y1="1065" x2="1315" y2="1068"/>
</g>
<text x="1295" y="1120" text-anchor="middle" dominant-baseline="central" font-size="26" font-weight="bold" fill="#fff" textLength="100" lengthAdjust="spacingAndGlyphs">ISPSoft</text>
<polygon points="1340,1150 1344,1142 1348,1150" fill="#fff"/>
<rect x="1350" y="1145" width="14" height="4" fill="#fff"/>
<polygon points="1200,1162 1385,1162 1401,1188 1185,1188" fill="#c9c9c9"/>
<polygon points="1210,1166 1375,1166 1386,1182 1199,1182" fill="#6a6a6a"/>
<g stroke="#aaa" stroke-width="1"><line x1="1207" y1="1170" x2="1379" y2="1170"/><line x1="1204" y1="1174" x2="1382" y2="1174"/><line x1="1201" y1="1178" x2="1384" y2="1178"/></g>
<rect x="1185" y="1188" width="216" height="7" fill="#e2e2e2"/>
<rect x="1280" y="1188" width="26" height="3" fill="#999"/>
<line x1="1405" y1="1092" x2="1539" y2="1092" stroke="#1a9ce0" stroke-width="3"/>
<polygon points="1397,1092 1410,1084 1410,1100" fill="#1a9ce0"/>
<line x1="1404" y1="1126" x2="1535" y2="1126" stroke="#1a9ce0" stroke-width="3"/>
<polygon points="1545,1126 1532,1118 1532,1134" fill="#1a9ce0"/>
<use href="#drive" x="1570" y="1033" width="115" height="157"/>
</svg>
</body></html>
